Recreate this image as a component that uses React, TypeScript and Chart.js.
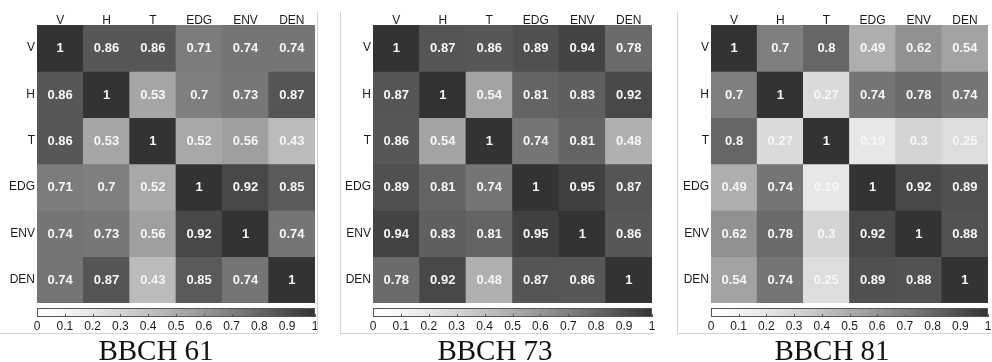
import React, { useEffect, useRef } from 'react';
import { Chart, registerables } from 'chart.js';

Chart.register(...registerables);

// ---- data ----
const variables = ['V', 'H', 'T', 'EDG', 'ENV', 'DEN'];

const bbch61 = [
  [1, 0.86, 0.86, 0.71, 0.74, 0.74],
  [0.86, 1, 0.53, 0.7, 0.73, 0.87],
  [0.86, 0.53, 1, 0.52, 0.56, 0.43],
  [0.71, 0.7, 0.52, 1, 0.92, 0.85],
  [0.74, 0.73, 0.56, 0.92, 1, 0.74],
  [0.74, 0.87, 0.43, 0.85, 0.74, 1],
];

const bbch73 = [
  [1, 0.87, 0.86, 0.89, 0.94, 0.78],
  [0.87, 1, 0.54, 0.81, 0.83, 0.92],
  [0.86, 0.54, 1, 0.74, 0.81, 0.48],
  [0.89, 0.81, 0.74, 1, 0.95, 0.87],
  [0.94, 0.83, 0.81, 0.95, 1, 0.86],
  [0.78, 0.92, 0.48, 0.87, 0.86, 1],
];

const bbch81 = [
  [1, 0.7, 0.8, 0.49, 0.62, 0.54],
  [0.7, 1, 0.27, 0.74, 0.78, 0.74],
  [0.8, 0.27, 1, 0.19, 0.3, 0.25],
  [0.49, 0.74, 0.19, 1, 0.92, 0.89],
  [0.62, 0.78, 0.3, 0.92, 1, 0.88],
  [0.54, 0.74, 0.25, 0.89, 0.88, 1],
];

const panelTitles = ['BBCH 61', 'BBCH 73', 'BBCH 81'];
const colorbarTicks = [0, 0.1, 0.2, 0.3, 0.4, 0.5, 0.6, 0.7, 0.8, 0.9, 1];

// ---- styling / layout ----
const SANS = '"Liberation Sans", Arial, Helvetica, sans-serif';
const SERIF = '"Liberation Serif", "Times New Roman", serif';
const H = 362;

const layouts = [
  { left: 0, width: 320, plotL: 37, plotR: 315, vLineX: 317.5, hLine: [0, 317.5], titleX: 156 },
  { left: 336, width: 322, plotL: 37, plotR: 316, vLineX: 4.5, hLine: [4, 319], titleX: 159 },
  { left: 672, width: 320, plotL: 39, plotR: 316, vLineX: 5.5, hLine: [5, 320], titleX: 160 },
];

function shade(v: number): string {
  const g = Math.round(255 - 204 * Math.pow(Math.max(0, Math.min(1, v)), 1.3));
  return `rgb(${g},${g},${g})`;
}

function makeDecor(matrix: number[][], title: string, lay: any) {
  return {
    id: 'panelDecor',
    afterDatasetsDraw(chart: any) {
      const ctx = chart.ctx;
      ctx.save();
      ctx.font = `bold 13px ${SANS}`;
      ctx.fillStyle = '#f6f6f6';
      ctx.textAlign = 'center';
      ctx.textBaseline = 'middle';
      matrix.forEach((row, r) => {
        const meta = chart.getDatasetMeta(r);
        meta.data.forEach((el: any, c: number) => {
          const p = el.getProps(['x', 'y', 'base'], true);
          ctx.fillText(String(row[c]), p.x, (p.y + p.base) / 2 + 0.5);
        });
      });
      ctx.restore();
    },
    afterDraw(chart: any) {
      const ctx = chart.ctx;
      const cb = chart.scales.cb;
      const x0 = cb.getPixelForValue(0);
      const x1 = cb.getPixelForValue(1);
      const y0 = chart.chartArea.bottom + 5;
      const h = 9;
      ctx.save();
      const grad = ctx.createLinearGradient(x0, 0, x1, 0);
      for (let i = 0; i <= 20; i++) {
        grad.addColorStop(i / 20, shade(i / 20));
      }
      ctx.fillStyle = grad;
      ctx.fillRect(x0, y0, x1 - x0, h);
      ctx.strokeStyle = '#555';
      ctx.lineWidth = 1;
      ctx.strokeRect(Math.round(x0) + 0.5, y0 + 0.5, Math.round(x1 - x0) - 1, h - 1);
      ctx.beginPath();
      colorbarTicks.forEach((v) => {
        const x = Math.round(cb.getPixelForValue(v)) + 0.5;
        ctx.moveTo(x, y0 + h - 3);
        ctx.lineTo(x, y0 + h);
      });
      ctx.stroke();

      // panel frame lines (scanned figure borders)
      ctx.strokeStyle = '#d2d2d2';
      ctx.beginPath();
      ctx.moveTo(lay.vLineX, 12);
      ctx.lineTo(lay.vLineX, 333.5);
      ctx.moveTo(lay.hLine[0], 333.5);
      ctx.lineTo(lay.hLine[1], 333.5);
      ctx.stroke();

      // panel title
      ctx.font = `29px ${SERIF}`;
      ctx.fillStyle = '#111';
      ctx.textAlign = 'center';
      ctx.textBaseline = 'alphabetic';
      ctx.fillText(title, lay.titleX, 359.5);
      ctx.restore();
    },
  };
}

function Panel({ matrix, title, lay }: { matrix: number[][]; title: string; lay: any }) {
  const ref = useRef<HTMLCanvasElement>(null);
  useEffect(() => {
    const canvas = ref.current as HTMLCanvasElement;
    const labelFont = { family: SANS, size: 12 };
    const chart = new Chart(canvas, {
      type: 'bar',
      data: {
        labels: variables,
        datasets: variables.map((rowName, r) => ({
          label: rowName,
          data: variables.map(() => 1),
          backgroundColor: matrix[r].map(shade),
          borderWidth: 0,
          barPercentage: 1,
          categoryPercentage: 1,
          xAxisID: 'x',
          yAxisID: 'y',
          stack: 'cells',
        })),
      },
      options: {
        responsive: false,
        animation: false,
        events: [],
        layout: { padding: { left: 0, right: lay.width - lay.plotR, top: 0, bottom: 27 } },
        plugins: { legend: { display: false }, tooltip: { enabled: false }, title: { display: false } },
        scales: {
          x: {
            type: 'category',
            position: 'top',
            stacked: true,
            grid: { display: false, drawTicks: false },
            border: { display: false },
            ticks: { color: '#1a1a1a', font: labelFont, padding: -3, maxRotation: 0, autoSkip: false },
            afterFit: (s: any) => { s.height = 25; s.paddingLeft = 0; s.paddingRight = 0; },
          },
          y: {
            type: 'linear',
            stacked: true,
            min: 0,
            max: variables.length,
            reverse: true,
            grid: { display: false, drawTicks: false },
            border: { display: false },
            afterBuildTicks: (s: any) => { s.ticks = variables.map((_, i) => ({ value: i + 0.5 })); },
            ticks: {
              color: '#1a1a1a',
              font: labelFont,
              padding: 2,
              autoSkip: false,
              callback: (v: any) => variables[Math.floor(Number(v))],
            },
            afterFit: (s: any) => { s.width = lay.plotL; s.paddingTop = 0; s.paddingBottom = 0; },
          },
          cb: {
            type: 'linear',
            axis: 'x',
            position: 'bottom',
            offset: false,
            min: 0,
            max: 1,
            grid: { display: false, drawTicks: false, offset: false },
            border: { display: false },
            afterBuildTicks: (s: any) => { s.ticks = colorbarTicks.map((v) => ({ value: v })); },
            ticks: {
              color: '#1a1a1a',
              font: labelFont,
              padding: 16,
              autoSkip: false,
              maxRotation: 0,
              callback: (v: any) => String(v),
            },
            afterFit: (s: any) => { s.height = 32; s.paddingLeft = 0; s.paddingRight = 0; },
          },
        },
      } as any,
      plugins: [makeDecor(matrix, title, lay)],
    });
    return () => chart.destroy();
  }, []);
  return (
    <canvas
      ref={ref}
      width={lay.width}
      height={H}
      style={{ position: 'absolute', left: lay.left, top: 0, width: lay.width, height: H }}
    />
  );
}

export default function App() {
  const matrices = [bbch61, bbch73, bbch81];
  return (
    <div style={{ position: 'absolute', left: 0, top: 0, width: 992, height: H, background: '#fff', overflow: 'hidden' }}>
      {matrices.map((m, i) => (
        <Panel key={i} matrix={m} title={panelTitles[i]} lay={layouts[i]} />
      ))}
    </div>
  );
}
